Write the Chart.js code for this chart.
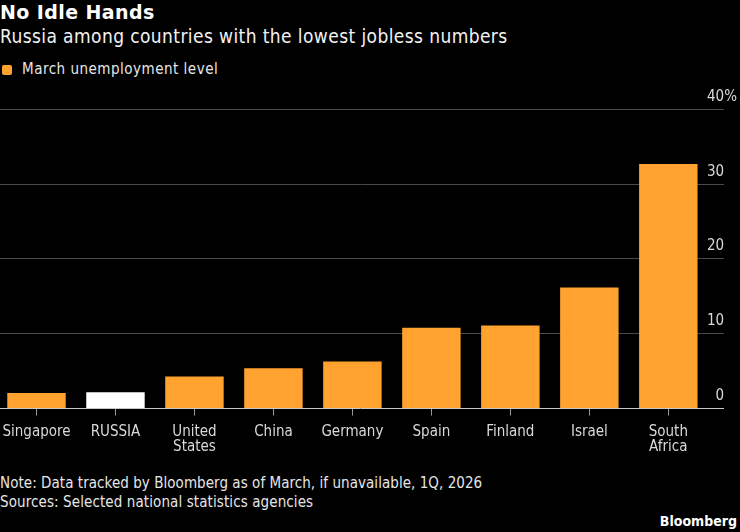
<!DOCTYPE html>
<html>
<head>
<meta charset="utf-8">
<script src="https://cdn.jsdelivr.net/npm/chart.js@4/dist/chart.umd.min.js"></script>
<style>
  html, body { margin: 0; padding: 0; background: #000; width: 740px; height: 532px; overflow: hidden; }
  body { position: relative; font-family: "DejaVu Sans Condensed", "DejaVu Sans", sans-serif; color: #fff; }
  .t { position: absolute; line-height: 1; white-space: nowrap; }
  #title { left: 0; top: 2.5px; font-family: "DejaVu Sans", sans-serif; font-size: 19px; font-weight: bold; letter-spacing: 0.4px; color: #fff; }
  #subtitle { left: 0; top: 27px; font-size: 19px; letter-spacing: 0.4px; color: #f2f2f2; }
  #swatch { position: absolute; left: 2px; top: 65px; width: 10px; height: 10px; border-radius: 2px; background: #ffa22f; }
  #legend { left: 22px; top: 62px; font-size: 15px; letter-spacing: 0.5px; color: #e6e6e6; }
  #note { left: 0; top: 475.5px; font-size: 15px; letter-spacing: 0.05px; color: #e6e6e6; }
  #sources { left: 0; top: 495px; font-size: 15px; letter-spacing: 0.1px; color: #e6e6e6; }
  #brand { right: 3px; top: 513.5px; font-size: 14px; font-weight: bold; color: #fff; }
  #wrap { position: absolute; left: -3px; top: 80px; width: 743px; height: 384px; }
</style>
</head>
<body>
<div class="t" id="title">No Idle Hands</div>
<div class="t" id="subtitle">Russia among countries with the lowest jobless numbers</div>
<div id="swatch"></div>
<div class="t" id="legend">March unemployment level</div>
<div id="wrap"><canvas id="c" width="743" height="384"></canvas></div>
<div class="t" id="note">Note: Data tracked by Bloomberg as of March, if unavailable, 1Q, 2026</div>
<div class="t" id="sources">Sources: Selected national statistics agencies</div>
<div class="t" id="brand">Bloomberg</div>
<script>
const categories = ["Singapore", "RUSSIA", "United States", "China", "Germany", "Spain", "Finland", "Israel", "South Africa"];
const unemployment = [2.1, 2.2, 4.3, 5.4, 6.3, 10.8, 11.1, 16.2, 32.7];
const yTicks = [0, 10, 20, 30, 40];
const highlighted = "RUSSIA";
const seriesLabel = "March unemployment level";

const FONT = '"DejaVu Sans Condensed", "DejaVu Sans", sans-serif';
Chart.defaults.font.family = FONT;

new Chart(document.getElementById('c'), {
  type: 'bar',
  data: {
    datasets: [{
      label: seriesLabel,
      data: categories.map((c, i) => ({ x: i, y: unemployment[i] })),
      backgroundColor: categories.map(c => c === highlighted ? '#ffffff' : '#ffa22f'),
      borderWidth: 0,
      categoryPercentage: 1,
      barPercentage: 0.74
    }]
  },
  options: {
    responsive: false,
    animation: false,
    layout: { padding: { left: 0, right: 16, top: 29.3, bottom: 0.4 } },
    plugins: { legend: { display: false }, tooltip: { enabled: false } },
    scales: {
      x: {
        type: 'linear',
        offset: false,
        min: -0.5,
        max: 8.705,
        afterBuildTicks: s => { s.ticks = categories.map((_, i) => ({ value: i })); },
        afterFit: s => { s.paddingLeft = 0; s.paddingRight = 0; },
        grid: { offset: false, drawOnChartArea: false, drawTicks: true, tickLength: 7, color: '#9a9a9a', lineWidth: 1 },
        border: { display: false },
        ticks: {
          padding: 9,
          color: '#d9d9d9',
          maxRotation: 0,
          autoSkip: false,
          font: { size: 15, lineHeight: 1 },
          callback: v => categories[v] ? categories[v].split(' ') : ''
        }
      },
      y: {
        position: 'right',
        min: 0,
        max: 40,
        afterBuildTicks: s => { s.ticks = yTicks.map(v => ({ value: v })); },
        afterFit: s => { s.width = 0; s.paddingTop = 0; s.paddingBottom = 0; },
        grid: {
          drawTicks: false,
          lineWidth: 1,
          color: ctx => (ctx.tick && ctx.tick.value === 0) ? '#c8c8c8' : '#4a4a4a'
        },
        border: { display: false },
        ticks: {
          mirror: true,
          padding: 13,
          labelOffset: -12.5,
          color: '#d9d9d9',
          font: { size: 15 },
          callback: v => v === 40 ? '40%' : v + '   '
        }
      }
    }
  }
});
</script>
</body>
</html>
